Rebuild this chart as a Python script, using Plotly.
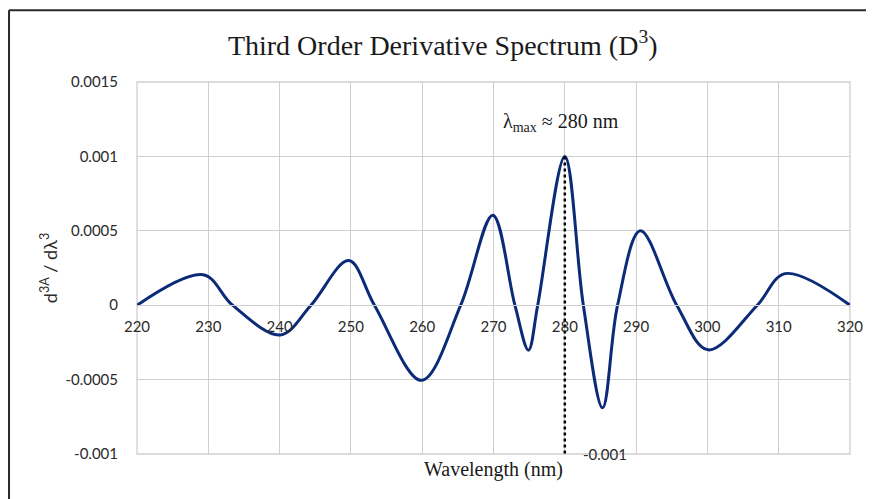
import plotly.graph_objects as go

# Data (extrema and zero crossings of the D3 curve)
wavelength = [220, 229.3, 233.4, 240.1, 244.4, 249.7, 253.3, 259.9, 265.4,
              269.9, 273.0, 274.9, 276.2, 280.0, 282.6, 285.3, 287.4, 290.6, 295.7,
              300.1, 307.0, 310.9, 320]
d3 = [0, 0.000205, 0, -0.0002, 0, 0.0003, 0, -0.000505, 0,
      0.000605, 0, -0.000302, 0, 0.001, 0, -0.00069, 0, 0.0005, 0,
      -0.0003, 0, 0.000212, 0]

x_ticks = [220, 230, 240, 250, 260, 270, 280, 290, 300, 310, 320]
y_ticks = [-0.001, -0.0005, 0, 0.0005, 0.001, 0.0015]
y_tick_labels = ["-0.001", "-0.0005", "0", "0.0005", "0.001", "0.0015"]
lambda_max = 280
lambda_max_value = 0.001

fig = go.Figure()
fig.add_trace(go.Scatter(
    x=wavelength, y=d3, mode="lines",
    line=dict(color="#0b2a78", width=3, shape="spline", smoothing=1.0),
    hoverinfo="skip", showlegend=False))

# dotted marker line at lambda max
fig.add_trace(go.Scatter(
    x=[lambda_max, lambda_max], y=[lambda_max_value, y_ticks[0]], mode="lines",
    line=dict(color="black", width=2.5, dash="dot"),
    hoverinfo="skip", showlegend=False))

grid = "#cfcfcf"
sans = "Lato, 'Open Sans', sans-serif"
serif = "'Liberation Serif', 'DejaVu Serif', serif"

fig.update_layout(
    width=866, height=491,
    margin=dict(l=129, r=24, t=74, b=45),
    paper_bgcolor="white", plot_bgcolor="white",
    title=dict(text="Third Order Derivative Spectrum (D<sup>3</sup>)",
               x=0.502, xanchor="center", y=0.925, yanchor="middle",
               font=dict(family=serif, size=28, color="#1a1a1a")),
    xaxis=dict(range=[220, 320], tickvals=x_ticks, ticktext=[str(v) for v in x_ticks],
               showgrid=True, gridcolor=grid, gridwidth=1.3,
               zeroline=False, showline=True, linecolor=grid, linewidth=1.3,
               anchor="free", position=0.4, ticks="", ticklabelstandoff=8,
               tickfont=dict(family=sans, size=15, color="#2a2a2a")),
    yaxis=dict(range=[-0.001, 0.0015], tickvals=y_ticks, ticktext=y_tick_labels,
               showgrid=True, gridcolor=grid, gridwidth=1.3,
               zeroline=False, showline=False, ticks="", ticklabelstandoff=18,
               tickfont=dict(family=sans, size=15, color="#2a2a2a"),
               title=dict(text="d<sup>3A</sup> / dλ<sup>3</sup>", standoff=3,
                          font=dict(family=sans, size=18, color="#2a2a2a"))),
)

# plot area border
fig.add_shape(type="rect", xref="paper", yref="paper", x0=0, x1=1, y0=0, y1=1,
              line=dict(color=grid, width=1.3), layer="below")
# outer black frame (top and left edges visible)
fig.add_shape(type="line", xref="paper", yref="paper", x0=-0.1795, x1=1.2,
              y0=1.193, y1=1.193, line=dict(color="#2a2a2a", width=2))
fig.add_shape(type="line", xref="paper", yref="paper", x0=-0.1795, x1=-0.1795,
              y0=-0.3, y1=1.193, line=dict(color="#2a2a2a", width=2))

fig.add_annotation(x=lambda_max, y=lambda_max_value, xref="x", yref="y",
                   text="λ<sub>max</sub> ≈ 280 nm", showarrow=False, yshift=34, xshift=-4,
                   font=dict(family=serif, size=20, color="#1a1a1a"))
fig.add_annotation(x=0.5, y=0, xref="paper", yref="paper", yanchor="top",
                   text="Wavelength (nm)", showarrow=False, yshift=-2,
                   font=dict(family=serif, size=20, color="#1a1a1a"))
fig.add_annotation(x=285.6, y=y_ticks[0], xref="x", yref="y",
                   text=y_tick_labels[0], showarrow=False,
                   font=dict(family=sans, size=15, color="#2a2a2a"))

fig.write_html("out.html")
